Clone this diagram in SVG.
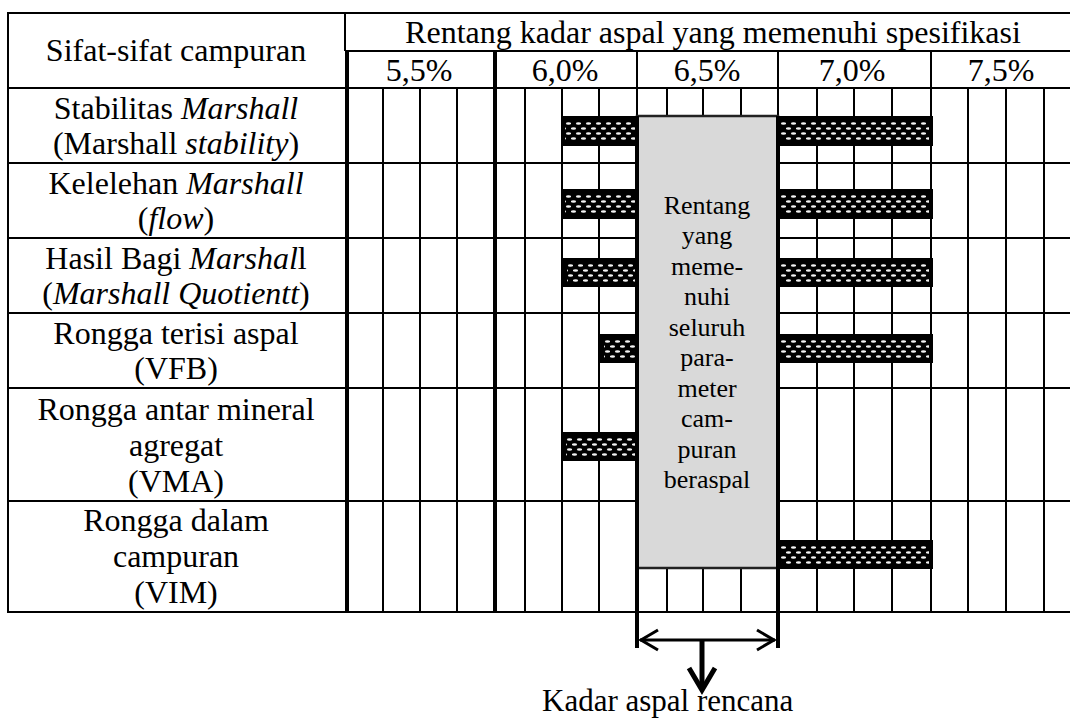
<svg xmlns="http://www.w3.org/2000/svg" width="1070" height="720" viewBox="0 0 1070 720">
  <style>
    .t { font-family: "Liberation Serif", "Times New Roman", serif; font-size: 32px; fill: #000; text-anchor: middle; }
    .s { font-size: 26px; }
    .i { font-style: italic; }
    .thin { stroke: #000; stroke-width: 2; fill: none; }
    .thick { stroke: #000; stroke-width: 4; fill: none; }
    .arrow { stroke: #000; stroke-width: 3; fill: none; stroke-linecap: butt; }
    .arrow-bold { stroke: #000; stroke-width: 5; fill: none; stroke-linejoin: miter; }
  </style>
  <defs>
    <!-- staggered white dashes on black, used inside each bar -->
    <pattern id="dots" patternUnits="userSpaceOnUse" width="10" height="10">
      <rect width="10" height="10" fill="#000"/>
      <ellipse cx="2.5" cy="2.5" rx="2.6" ry="1.2" fill="#f2f2f2"/>
      <ellipse cx="7.5" cy="7.5" rx="2.6" ry="1.2" fill="#f2f2f2"/>
    </pattern>
  </defs>

  <rect width="1070" height="720" fill="#fff"/>

  <!-- table grid -->
  <g id="grid">
    <!-- outer frame and header rules -->
    <line class="thin" x1="8" y1="13" x2="1070" y2="13"/>
    <line class="thin" x1="8" y1="12" x2="8" y2="613"/>
    <line class="thin" x1="8" y1="612" x2="1070" y2="612"/>
    <line class="thin" x1="345" y1="51" x2="1070" y2="51"/>
    <line class="thin" x1="8" y1="88" x2="1070" y2="88"/>
    <line class="thin" x1="345" y1="13" x2="345" y2="51"/>
    <!-- row rules -->
    <line class="thin" x1="8" y1="163" x2="1070" y2="163"/>
    <line class="thin" x1="8" y1="238" x2="1070" y2="238"/>
    <line class="thin" x1="8" y1="313" x2="1070" y2="313"/>
    <line class="thin" x1="8" y1="388" x2="1070" y2="388"/>
    <line class="thin" x1="8" y1="501" x2="1070" y2="501"/>
    <!-- group dividers -->
    <line class="thick" x1="347" y1="51" x2="347" y2="612"/>
    <line class="thick" x1="495" y1="51" x2="495" y2="612"/>
    <line class="thin" x1="637" y1="51" x2="637" y2="612"/>
    <line class="thin" x1="778" y1="51" x2="778" y2="612"/>
    <line class="thin" x1="931" y1="51" x2="931" y2="612"/>
    <!-- sub-column rules -->
    <g class="thin">
      <line x1="383" y1="88" x2="383" y2="612"/>
      <line x1="420" y1="88" x2="420" y2="612"/>
      <line x1="457" y1="88" x2="457" y2="612"/>
      <line x1="525" y1="88" x2="525" y2="612"/>
      <line x1="562" y1="88" x2="562" y2="612"/>
      <line x1="599" y1="88" x2="599" y2="612"/>
      <line x1="667" y1="88" x2="667" y2="612"/>
      <line x1="703" y1="88" x2="703" y2="612"/>
      <line x1="741" y1="88" x2="741" y2="612"/>
      <line x1="817" y1="88" x2="817" y2="612"/>
      <line x1="854" y1="88" x2="854" y2="612"/>
      <line x1="892" y1="88" x2="892" y2="612"/>
      <line x1="968" y1="88" x2="968" y2="612"/>
      <line x1="1006" y1="88" x2="1006" y2="612"/>
      <line x1="1044" y1="88" x2="1044" y2="612"/>
    </g>
  </g>

  <!-- header -->
  <g id="header">
    <text class="t" x="176" y="61">Sifat-sifat campuran</text>
    <text class="t" x="713" y="43">Rentang kadar aspal yang memenuhi spesifikasi</text>
    <text class="t" x="419" y="81">5,5%</text>
    <text class="t" x="565" y="81">6,0%</text>
    <text class="t" x="707" y="81">6,5%</text>
    <text class="t" x="852" y="81">7,0%</text>
    <text class="t" x="1001" y="81">7,5%</text>
  </g>

  <!-- row labels -->
  <g id="row-stability">
    <text class="t" x="176" y="119">Stabilitas <tspan class="i">Marshall</tspan></text>
    <text class="t" x="176" y="154">(Marshall <tspan class="i">stability</tspan>)</text>
  </g>
  <g id="row-flow">
    <text class="t" x="176" y="194">Kelelehan <tspan class="i">Marshall</tspan></text>
    <text class="t" x="176" y="229">(<tspan class="i">flow</tspan>)</text>
  </g>
  <g id="row-quotient">
    <text class="t" x="176" y="269">Hasil Bagi <tspan class="i">Marshal</tspan>l</text>
    <text class="t" x="176" y="304">(<tspan class="i">Marshall Quotientt</tspan>)</text>
  </g>
  <g id="row-vfb">
    <text class="t" x="176" y="344">Rongga terisi aspal</text>
    <text class="t" x="176" y="379">(VFB)</text>
  </g>
  <g id="row-vma">
    <text class="t" x="176" y="420">Rongga antar mineral</text>
    <text class="t" x="176" y="456">agregat</text>
    <text class="t" x="176" y="492">(VMA)</text>
  </g>
  <g id="row-vim">
    <text class="t" x="176" y="531">Rongga dalam</text>
    <text class="t" x="176" y="567">campuran</text>
    <text class="t" x="176" y="603">(VIM)</text>
  </g>

  <!-- acceptable ranges per property -->
  <g id="bars">
    <g transform="translate(561,116)"><rect width="78" height="30" fill="#000"/><rect x="4" y="5" width="72" height="20" fill="url(#dots)"/></g>
    <g transform="translate(776,116)"><rect width="157" height="30" fill="#000"/><rect x="5" y="5" width="148" height="20" fill="url(#dots)"/></g>
    <g transform="translate(561,189)"><rect width="78" height="30" fill="#000"/><rect x="4" y="5" width="72" height="20" fill="url(#dots)"/></g>
    <g transform="translate(776,189)"><rect width="157" height="30" fill="#000"/><rect x="5" y="5" width="148" height="20" fill="url(#dots)"/></g>
    <g transform="translate(563,258)"><rect width="76" height="29" fill="#000"/><rect x="4" y="5" width="70" height="19" fill="url(#dots)"/></g>
    <g transform="translate(776,258)"><rect width="157" height="29" fill="#000"/><rect x="5" y="5" width="148" height="19" fill="url(#dots)"/></g>
    <g transform="translate(600,334)"><rect width="39" height="29" fill="#000"/><rect x="4" y="5" width="33" height="19" fill="url(#dots)"/></g>
    <g transform="translate(776,334)"><rect width="157" height="29" fill="#000"/><rect x="5" y="5" width="148" height="19" fill="url(#dots)"/></g>
    <g transform="translate(562,432)"><rect width="77" height="29" fill="#000"/><rect x="4" y="5" width="71" height="19" fill="url(#dots)"/></g>
    <g transform="translate(776,540)"><rect width="157" height="29" fill="#000"/><rect x="5" y="5" width="148" height="19" fill="url(#dots)"/></g>
  </g>

  <!-- common range box -->
  <g id="design-range">
    <rect x="637" y="116" width="141" height="452" fill="#d9d9d9" stroke="#222" stroke-width="2.5"/>
    <line class="thick" x1="637" y1="116" x2="637" y2="648"/>
    <line class="thick" x1="778" y1="116" x2="778" y2="648"/>
    <g class="t s">
      <text x="707" y="214">Rentang</text>
      <text x="707" y="244">yang</text>
      <text x="707" y="275">meme-</text>
      <text x="707" y="305">nuhi</text>
      <text x="707" y="336">seluruh</text>
      <text x="707" y="366">para-</text>
      <text x="707" y="397">meter</text>
      <text x="707" y="427">cam-</text>
      <text x="707" y="458">puran</text>
      <text x="707" y="488">beraspal</text>
    </g>
  </g>

  <!-- dimension arrows -->
  <g id="connectors">
    <line class="arrow" x1="640" y1="640" x2="775" y2="640"/>
    <polyline class="arrow" points="658,630 641,640 658,650"/>
    <polyline class="arrow" points="757,630 774,640 757,650"/>
    <line class="arrow-bold" x1="702" y1="640" x2="702" y2="688"/>
    <polyline class="arrow-bold" points="689,668 702,690 715,668"/>
  </g>

  <g id="result">
    <text class="t" x="542" y="711" style="text-anchor:start; font-size:31px">Kadar aspal rencana</text>
  </g>
</svg>
